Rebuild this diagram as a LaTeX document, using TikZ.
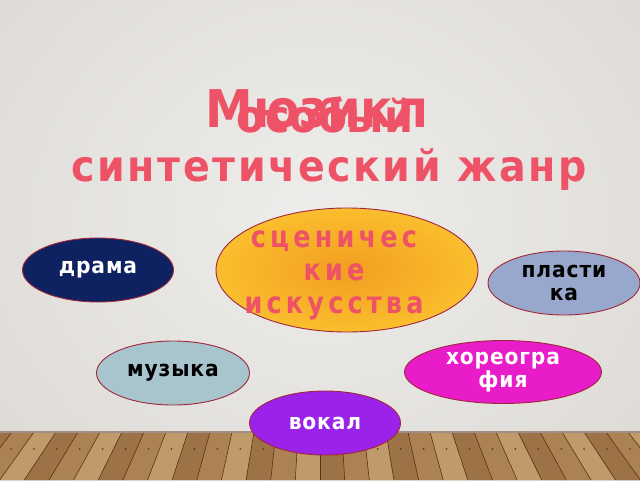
\documentclass[tikz,border=0pt]{standalone}
\usepackage{fontspec}
\setmainfont{DejaVu Sans}[FakeStretch=0.92]
\newfontfamily\narrowfont{DejaVu Sans}[FakeStretch=0.85]
\usetikzlibrary{shapes.geometric}
\definecolor{pinktxt}{RGB}{238,82,102}
\definecolor{bglight}{RGB}{238,237,235}
\definecolor{bgdark}{RGB}{222,219,214}
\definecolor{rimred}{RGB}{160,40,60}
\definecolor{navy}{RGB}{14,33,96}
\definecolor{plastic}{RGB}{152,168,204}
\definecolor{musicc}{RGB}{168,196,204}
\definecolor{chorc}{RGB}{232,28,200}
\definecolor{vocalc}{RGB}{155,34,232}
\definecolor{woodA}{RGB}{172,130,84}
\definecolor{woodB}{RGB}{192,154,106}
\definecolor{woodC}{RGB}{156,114,70}
\definecolor{woodline}{RGB}{80,52,28}
\tikzset{
  oval/.style={ellipse, draw=rimred, line width=0.9pt, inner sep=0pt, align=center},
  smalltxt/.style={font=\bfseries\fontsize{22}{23}\selectfont\addfontfeature{LetterSpace=4}},
  titletxt/.style={text=pinktxt, inner sep=0pt, anchor=base},
}
\begin{document}
\begin{tikzpicture}[x=1pt,y=-1pt]
\useasboundingbox (0,0) rectangle (640,480);
% wall
\shade[inner color=bglight, outer color=bgdark] (-100,-150) rectangle (740,580);
% floor
\fill[woodA] (0,432) rectangle (640,480);
\foreach \i [count=\k] in {-16,...,15}{
  \pgfmathsetmacro{\xa}{320+\i*22}
  \pgfmathsetmacro{\xb}{320+(\i+1)*22}
  \pgfmathsetmacro{\xc}{320+(\i+1)*22*1.12}
  \pgfmathsetmacro{\xd}{320+\i*22*1.12}
  \pgfmathtruncatemacro{\m}{mod(\k,3)}
  \ifnum\m=0 \def\pc{woodA}\fi
  \ifnum\m=1 \def\pc{woodB}\fi
  \ifnum\m=2 \def\pc{woodC}\fi
  \fill[\pc] (\xa,432) -- (\xb,432) -- (\xc,480) -- (\xd,480) -- cycle;
  \draw[woodline, line width=0.6pt] (\xa,432) -- (\xd,480);
  \fill[woodline] ({(\xa+\xb)/2+ (\xc-\xb)*0.35},449) circle (0.9);
}
\fill[woodline!55] (0,430.5) rectangle (640,432.5);
% title
\node[titletxt, font=\bfseries\fontsize{52}{52}\selectfont] (t1) at (317,127) {Мюзикл};
\node[titletxt, font=\bfseries\fontsize{45}{45}\selectfont] (t2) at (325,132) {особый};
\node[titletxt, font=\bfseries\fontsize{43}{43}\selectfont\addfontfeature{LetterSpace=6}] (t3) at (329,181) {синтетический жанр};
% ellipses
\node[oval, minimum width=262pt, minimum height=124pt, shading=radial, inner color={rgb,255:red,242;green,158;blue,34}, outer color={rgb,255:red,250;green,190;blue,45}] (center) at (347,270) {};
\node[text=pinktxt, align=center, inner sep=0pt, font=\narrowfont\bfseries\fontsize{30}{33}\selectfont\addfontfeature{LetterSpace=14}] (centertxt) at (334,275) {сценичес\\кие\\искусства};
\node[oval, minimum width=151pt, minimum height=64pt, fill=navy, text=white, smalltxt] (drama) at (98,270) {драма};
\node[oval, minimum width=152pt, minimum height=64pt, fill=plastic, text=black, smalltxt] (plast) at (564,283) {пласти\\ка};
\node[oval, minimum width=153pt, minimum height=64pt, fill=musicc, text=black, smalltxt] (music) at (173,373) {музыка};
\node[oval, minimum width=197pt, minimum height=63pt, fill=chorc, text=white, smalltxt] (chor) at (503,372) {хореогра\\фия};
\node[oval, minimum width=151pt, minimum height=64pt, fill=vocalc, text=white, smalltxt] (vocal) at (325,423) {вокал};
\end{tikzpicture}
\end{document}
